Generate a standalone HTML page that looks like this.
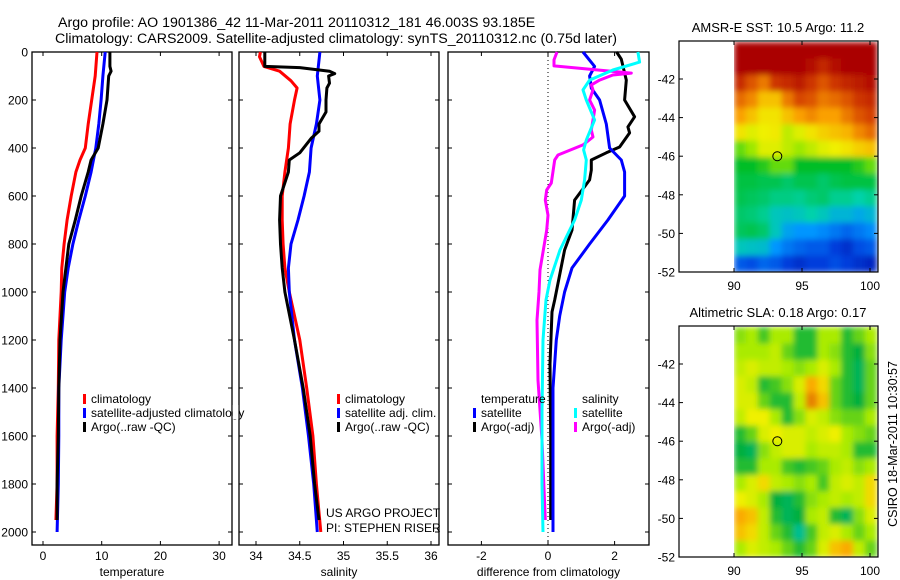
<!DOCTYPE html>
<html><head><meta charset="utf-8">
<style>
html,body{margin:0;padding:0;background:#fff;overflow:hidden;}
svg{display:block;font-family:"Liberation Sans",sans-serif;}
text{fill:#000;}
</style></head>
<body>
<svg id="fig" width="900" height="580" viewBox="0 0 900 580" xmlns="http://www.w3.org/2000/svg">
<defs>
<filter id="soft" x="0" y="0" width="1" height="1"><feGaussianBlur stdDeviation="3" edgeMode="duplicate"/></filter>
</defs>
<text x="58" y="27" font-size="14.2">Argo profile: AO 1901386_42 11-Mar-2011 20110312_181 46.003S 93.185E</text>
<text x="55" y="43" font-size="14.2">Climatology: CARS2009. Satellite-adjusted climatology: synTS_20110312.nc (0.75d later)</text>
<text x="778" y="32" font-size="13" text-anchor="middle">AMSR-E SST: 10.5 Argo: 11.2</text>
<text x="778" y="317" font-size="13" text-anchor="middle">Altimetric SLA: 0.18 Argo: 0.17</text>
<text x="0" y="0" font-size="12.5" text-anchor="middle" transform="translate(897,444) rotate(-90)">CSIRO 18-Mar-2011 10:30:57</text>
<text x="326" y="517" font-size="12">US ARGO PROJECT</text>
<text x="326" y="532" font-size="12">PI: STEPHEN RISER</text>
<g id="layer"></g>
</svg>
<script>
// ---------- profile data ----------
const tempClimDepth=[0,100,200,300,400,450,500,600,700,800,900,1000,1200,1400,1600,1800,1950];
const tempClim=[9.2,8.9,8.3,7.7,7.2,6.3,5.6,4.8,4.1,3.6,3.2,3.1,2.7,2.6,2.4,2.4,2.2];
const tempSatDepth=[0,100,200,300,400,500,600,700,800,900,1000,1200,1400,1600,1800,2000];
const tempSat=[10.6,10.2,9.9,9.5,9.0,8.2,7.2,6.1,5.1,4.3,3.7,3.1,2.7,2.7,2.6,2.4];
const tempArgoDepth=[0,60,80,100,200,300,400,450,500,600,700,800,900,1000,1200,1400,1600,1800,1950];
const tempArgo=[11.4,11.4,11.6,11.2,10.9,10.2,9.4,8.2,7.7,6.5,5.5,4.4,3.9,3.4,2.9,2.7,2.6,2.4,2.4];

const salClimDepth=[0,20,60,80,120,150,200,300,400,500,600,700,800,900,1000,1200,1400,1600,1800,2000];
const salClim=[34.05,34.04,34.09,34.27,34.40,34.47,34.44,34.39,34.37,34.33,34.30,34.30,34.31,34.33,34.38,34.50,34.58,34.65,34.69,34.74];
const salSatDepth=[0,100,200,300,400,500,600,700,800,900,1000,1200,1400,1600,1800,2000];
const salSat=[34.73,34.70,34.73,34.69,34.63,34.61,34.55,34.48,34.40,34.37,34.38,34.44,34.53,34.60,34.66,34.70];
const salArgoDepth=[0,60,65,80,90,100,130,150,200,250,300,330,360,420,450,500,600,700,800,900,1000,1200,1400,1600,1800,1950];
const salArgo=[34.10,34.10,34.50,34.84,34.90,34.83,34.84,34.81,34.80,34.80,34.72,34.72,34.63,34.50,34.38,34.37,34.28,34.27,34.28,34.30,34.33,34.44,34.54,34.62,34.67,34.72];

const dTempSatDepth=[0,60,100,150,200,300,400,450,500,600,700,800,900,1000,1100,1200,1400,1600,1800,2000];
const dTempSat=[1.05,1.4,1.25,1.3,1.55,1.75,1.85,2.2,2.3,2.3,1.8,1.25,0.72,0.5,0.35,0.25,0.15,0.15,0.15,0.15];
const dTempArgoDepth=[0,30,117,200,270,312,337,396,420,450,492,533,617,742,825,1033,1083,1300,1600,1950];
const dTempArgo=[2.06,2.2,2.35,2.3,2.6,2.4,2.45,2.15,1.75,1.3,1.3,1.25,0.8,0.72,0.5,0.2,0.12,0.06,0.08,0.08];
const dSalSatDepth=[0,42,75,117,158,200,283,367,408,450,533,617,700,825,950,1033,1200,1500,1800,2000];
const dSalSat=[2.7,2.75,1.95,1.25,1.05,1.15,1.4,1.15,1.07,1.15,1.1,1.0,0.8,0.36,0.06,-0.06,-0.15,-0.18,-0.18,-0.15];
const dSalArgoDepth=[0,33,58,88,96,117,137,158,200,242,283,325,354,387,429,450,546,575,617,680,742,908,1000,1117,1367,1617,1950];
const dSalArgo=[0.27,0.18,0.18,2.5,1.95,1.55,1.3,1.35,1.25,1.4,1.35,1.3,1.35,1.05,0.3,0.2,0.1,-0.04,-0.08,0,-0.04,-0.24,-0.27,-0.33,-0.3,-0.18,-0.08];

// ---------- map grids (rows top->bottom, -40.1 .. -52 ; cols 90 .. 100.5) ----------
const sstGrid=[
[1,1,1,1,1,1,1,1,1,1,1,1],
[1,1,1,1,1,1,0.97,0.93,0.97,1,1,1],
[0.92,0.85,0.8,0.9,0.92,0.95,0.9,0.85,0.9,0.93,0.95,0.97],
[0.82,0.78,0.7,0.7,0.8,0.87,0.85,0.8,0.82,0.85,0.9,0.92],
[0.75,0.7,0.65,0.65,0.7,0.75,0.78,0.75,0.75,0.8,0.85,0.88],
[0.65,0.62,0.63,0.64,0.6,0.62,0.65,0.68,0.7,0.72,0.78,0.82],
[0.55,0.58,0.62,0.62,0.6,0.58,0.6,0.62,0.63,0.65,0.68,0.7],
[0.5,0.5,0.52,0.55,0.55,0.5,0.5,0.5,0.5,0.5,0.52,0.55],
[0.48,0.48,0.47,0.47,0.45,0.47,0.47,0.45,0.47,0.48,0.48,0.48],
[0.47,0.46,0.45,0.43,0.43,0.42,0.44,0.45,0.42,0.42,0.4,0.42],
[0.45,0.44,0.42,0.38,0.37,0.38,0.4,0.38,0.35,0.35,0.33,0.35],
[0.46,0.47,0.45,0.38,0.32,0.3,0.3,0.28,0.25,0.22,0.25,0.28],
[0.38,0.37,0.36,0.3,0.25,0.22,0.2,0.2,0.15,0.12,0.18,0.2],
[0.2,0.18,0.22,0.2,0.15,0.12,0.15,0.15,0.18,0.15,0.12,0.1]];
const slaGrid=[
[0.45,0.5,0.35,0.5,0.5,0.3,0.3,0.5,0.5,0.3,0.4,0.5],
[0.5,0.5,0.5,0.55,0.4,0.3,0.3,0.5,0.45,0.3,0.25,0.45],
[0.55,0.6,0.55,0.55,0.5,0.45,0.5,0.6,0.5,0.3,0.2,0.4],
[0.6,0.55,0.3,0.35,0.45,0.6,0.8,0.7,0.4,0.3,0.2,0.4],
[0.6,0.6,0.4,0.3,0.3,0.55,0.9,0.75,0.4,0.3,0.25,0.4],
[0.55,0.65,0.65,0.5,0.3,0.45,0.6,0.55,0.45,0.4,0.4,0.5],
[0.3,0.4,0.6,0.65,0.6,0.6,0.55,0.6,0.65,0.5,0.45,0.4],
[0.25,0.2,0.45,0.55,0.6,0.6,0.5,0.55,0.55,0.5,0.3,0.3],
[0.3,0.3,0.5,0.5,0.35,0.3,0.35,0.4,0.5,0.55,0.45,0.5],
[0.5,0.6,0.7,0.55,0.5,0.45,0.5,0.35,0.55,0.6,0.55,0.7],
[0.65,0.6,0.5,0.25,0.2,0.3,0.45,0.5,0.55,0.5,0.55,0.7],
[0.8,0.75,0.55,0.3,0.2,0.25,0.5,0.55,0.3,0.2,0.45,0.6],
[0.75,0.7,0.55,0.4,0.3,0.1,0.35,0.55,0.6,0.5,0.4,0.5],
[0.5,0.6,0.55,0.5,0.4,0.3,0.4,0.6,0.75,0.8,0.55,0.4]];
const depthTicks=[0,200,400,600,800,1000,1200,1400,1600,1800,2000];
const tempTicks=[0,10,20,30];
const salTicks=[34,34.5,35,35.5,36];
const salTickLabels=["34","34.5","35","35.5","36"];
const diffTicks=[-2,0,2];
const latTicks=[-42,-44,-46,-48,-50,-52];
const lonTicks=[90,95,100];
const argoLon=93.185, argoLat=-46.003;

const NS="http://www.w3.org/2000/svg";
const layer=document.getElementById('layer');
const defs=document.querySelector('defs');
function mk(tag,attrs,parent){const e=document.createElementNS(NS,tag);for(const k in attrs)e.setAttribute(k,attrs[k]);(parent||layer).appendChild(e);return e;}

// depth axis
const yD=d=>52+d*0.24;
const panels=[
 {name:'temperature',l:32,r:232,x:v=>43+v*5.87,ticks:tempTicks,labels:tempTicks.map(String),xlabel:'temperature'},
 {name:'salinity',l:239,r:439,x:v=>256+(v-34)*87.5,ticks:salTicks,labels:salTickLabels,xlabel:'salinity'},
 {name:'difference',l:448,r:649,x:v=>548+v*33.3,ticks:diffTicks,labels:diffTicks.map(String),xlabel:'difference from climatology'}];
const topY=52,botY=545;
panels.forEach((p,i)=>{
  const g=mk('g',{});
  
  
  const box=mk('rect',{x:p.l,y:topY,width:p.r-p.l,height:botY-topY,fill:'none',stroke:'#000','stroke-width':1.3},g);
  
  
  depthTicks.forEach(d=>{
    mk('line',{x1:p.l,x2:p.l+4,y1:yD(d),y2:yD(d),stroke:'#000'},g);
    mk('line',{x1:p.r-4,x2:p.r,y1:yD(d),y2:yD(d),stroke:'#000'},g);
    if(i===0){const t=mk('text',{x:p.l-4,y:yD(d)+4.5,'font-size':12,'text-anchor':'end'},g);t.textContent=d;
      
      }
  });
  p.ticks.forEach((v,k)=>{
    const x=p.x(v);
    mk('line',{x1:x,x2:x,y1:topY,y2:topY+4,stroke:'#000'},g);
    mk('line',{x1:x,x2:x,y1:botY-4,y2:botY,stroke:'#000'},g);
    const t=mk('text',{x:x,y:560,'font-size':12,'text-anchor':'middle'},g);t.textContent=p.labels[k];
    
    
  });
  const xl=mk('text',{x:(p.l+p.r)/2,y:576,'font-size':12,'text-anchor':'middle'},g);xl.textContent=p.xlabel;
  
  
});
// zero line on diff panel
const zl=mk('line',{x1:548,x2:548,y1:topY,y2:botY,stroke:'#000','stroke-dasharray':'1,3'});



function line(p,depths,vals,color,name){
  const pts=depths.map((d,k)=>p.x(vals[k]).toFixed(1)+','+yD(d).toFixed(1)).join(' ');
  const e=mk('polyline',{points:pts,fill:'none',stroke:color,'stroke-width':3,'stroke-linejoin':'round'});
  
  
}
line(panels[0],tempClimDepth,tempClim,'#f00','temperature-climatology-line');
line(panels[0],tempSatDepth,tempSat,'#00f','temperature-satellite-line');
line(panels[0],tempArgoDepth,tempArgo,'#000','temperature-argo-line');
line(panels[1],salClimDepth,salClim,'#f00','salinity-climatology-line');
line(panels[1],salSatDepth,salSat,'#00f','salinity-satellite-line');
line(panels[1],salArgoDepth,salArgo,'#000','salinity-argo-line');
line(panels[2],dTempArgoDepth,dTempArgo,'#000','diff-temperature-argo-line');
line(panels[2],dTempSatDepth,dTempSat,'#00f','diff-temperature-satellite-line');
line(panels[2],dSalArgoDepth,dSalArgo,'#f0f','diff-salinity-argo-line');
line(panels[2],dSalSatDepth,dSalSat,'#0ff','diff-salinity-satellite-line');

function legend(x,y,color,label,name){
  const r=mk('rect',{x:x,y:y-9,width:3,height:10,fill:color});
  
  
  const t=mk('text',{x:x+8,y:y,'font-size':12});t.textContent=label;
  
  
}
legend(83,403,'#f00','climatology','temp-legend-climatology');
legend(83,417,'#00f','satellite-adjusted climatology','temp-legend-satellite');
legend(83,431,'#000','Argo(..raw -QC)','temp-legend-argo');
legend(337,403,'#f00','climatology','sal-legend-climatology');
legend(337,417,'#00f','satellite adj. clim.','sal-legend-satellite');
legend(337,431,'#000','Argo(..raw -QC)','sal-legend-argo');
{const t=mk('text',{x:481,y:403,'font-size':12});t.textContent='temperature';
 
 
 const s=mk('text',{x:582,y:403,'font-size':12});s.textContent='salinity';
 
 }
legend(473,417,'#00f','satellite','diff-legend-temp-satellite');
legend(473,431,'#000','Argo(-adj)','diff-legend-temp-argo');
legend(574,417,'#0ff','satellite','diff-legend-sal-satellite');
legend(574,431,'#f0f','Argo(-adj)','diff-legend-sal-argo');
// hide text overflow of temp legend past axis
mk('rect',{x:232.7,y:405,width:5.6,height:14,fill:'#fff'});

// ---------- maps ----------
function interp(stops,v){
  v=Math.max(0,Math.min(1,v));
  for(let i=1;i<stops.length;i++){if(v<=stops[i][0]){const a=stops[i-1],b=stops[i],t=(v-a[0])/(b[0]-a[0]);
    return 'rgb('+[1,2,3].map(j=>Math.round(a[j]+(b[j]-a[j])*t)).join(',')+')';}}
  const s=stops[stops.length-1];return 'rgb('+s[1]+','+s[2]+','+s[3]+')';
}
const sstStops=[[0,0,0,140],[0.15,0,60,220],[0.3,0,150,255],[0.4,0,210,170],[0.5,0,190,40],[0.57,140,230,0],[0.63,240,240,0],[0.75,250,160,0],[0.87,215,70,0],[1,170,0,0]];
const slaStops=[[0,0,200,200],[0.25,0,175,60],[0.5,170,235,0],[0.65,240,240,0],[0.8,250,170,0],[1,210,90,0]];
function drawMap(top0,grid,stops,name){
  const l=679,r=878,b=top0+231;
  const X=lon=>734+(lon-90)*13.6;
  const Y=lat=>b-(lat+52)*19.3;
  const g=mk('g',{});
  
  
  const cp=mk('clipPath',{id:'clip-'+name},defs);
  mk('rect',{x:X(90),y:top0+1,width:r-X(90),height:b-top0-1},cp);
  const clipG=mk('g',{'clip-path':'url(#clip-'+name+')'},g);
  const cells=mk('g',{filter:'url(#soft)'},clipG);
  
  
  const rows=grid.length,cols=grid[0].length;
  const lat0=-52+(b-top0-1)/19.3, dlat=(lat0+52)/rows, dlon=10.5/cols;
  grid.forEach((row,ri)=>row.forEach((v,ci)=>{
    const x1=X(90+ci*dlon),x2=Math.min(r,X(90+(ci+1)*dlon)),y1=Y(lat0-ri*dlat),y2=Y(lat0-(ri+1)*dlat);
    const c=mk('rect',{x:x1,y:y1,width:x2-x1+0.5,height:y2-y1+0.5,fill:interp(stops,v)},cells);
    
    
  }));
  const box=mk('rect',{x:l,y:top0,width:r-l,height:b-top0,fill:'none',stroke:'#000','stroke-width':1.2},g);
  
  
  latTicks.forEach(lt=>{const y=Y(lt);
    mk('line',{x1:l,x2:l+4,y1:y,y2:y,stroke:'#000'},g);mk('line',{x1:r-4,x2:r,y1:y,y2:y,stroke:'#000'},g);
    const t=mk('text',{x:l-4,y:y+4.5,'font-size':12,'text-anchor':'end'},g);t.textContent=lt;
    
    });
  lonTicks.forEach(ln=>{const x=X(ln);
    mk('line',{x1:x,x2:x,y1:top0,y2:top0+4,stroke:'#000'},g);mk('line',{x1:x,x2:x,y1:b-4,y2:b,stroke:'#000'},g);
    const t=mk('text',{x:x,y:b+18,'font-size':12,'text-anchor':'middle'},g);t.textContent=ln;
    
    });
  const m=mk('circle',{cx:X(argoLon),cy:Y(argoLat),r:4.5,fill:'none',stroke:'#000','stroke-width':1},g);
  
  
}
drawMap(41,sstGrid,sstStops,'sst');
drawMap(326,slaGrid,slaStops,'sla');
</script>
</body></html>
